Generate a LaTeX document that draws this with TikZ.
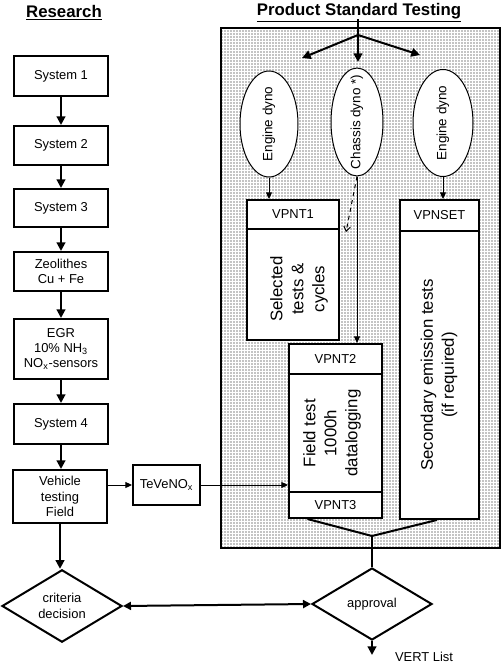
\documentclass[tikz,border=0pt]{standalone}
\usepackage{fontspec}
\setmainfont{Liberation Sans}
\usetikzlibrary{arrows.meta,shapes.geometric,patterns.meta}
\newcommand\pw[1]{#1*0.75pt}
\begin{document}
\begin{tikzpicture}[x=0.75pt,y=-0.75pt,
 sm/.style={font=\fontsize{9.7}{11.6}\selectfont},
 el/.style={font=\fontsize{10.1}{12}\selectfont},
 big/.style={font=\fontsize{12.6}{15.8}\selectfont},
 ttl/.style={font=\fontsize{12.6}{15}\selectfont\bfseries},
 box/.style={draw, line width=1.5pt, fill=white, inner sep=0pt, align=center, sm},
 ell/.style={draw, ellipse, line width=0.75pt, fill=white, inner sep=0pt},
 dia/.style={draw, diamond, line width=1.5pt, fill=white, inner sep=0pt, align=center, sm},
 thk/.style={line width=1.5pt, -{Triangle[length=6.5pt,width=6.5pt]}},
 thn/.style={line width=0.75pt, -{Triangle[length=5pt,width=4.5pt]}},
 rot/.style={rotate=90, align=center, inner sep=0pt},
]
\useasboundingbox (0,0) rectangle (503,667);
% panel
\draw[line width=1.5pt, fill=white, pattern={Dots[distance=2.25pt,radius=0.4pt]}] (221,28) rectangle (500,548);
\draw[line width=1.5pt] (221,28) rectangle (500,548);

% titles
\node[ttl] (res) at (64,13) {\underline{Research}};
\node[ttl] (pst) at (359,13) {\underline{Product Standard Testing}};

% research column
\node[box, minimum width=\pw{94}, minimum height=\pw{40}] (s1) at (61,76) {System 1};
\node[box, minimum width=\pw{94}, minimum height=\pw{39}] (s2) at (61,145.5) {System 2};
\node[box, minimum width=\pw{94}, minimum height=\pw{38}] (s3) at (61,208) {System 3};
\node[box, minimum width=\pw{94}, minimum height=\pw{39}] (zeo) at (61,271.5) {Zeolithes\\Cu + Fe};
\node[box, minimum width=\pw{94}, minimum height=\pw{60}] (egr) at (61,349) {EGR\\10\% NH\textsubscript{3}\\NO\textsubscript{x}-sensors};
\node[box, minimum width=\pw{94}, minimum height=\pw{40}] (s4) at (61,424) {System 4};
\node[box, minimum width=\pw{94}, minimum height=\pw{53}] (veh) at (60,496.5) {Vehicle\\testing\\Field};
\node[box, minimum width=\pw{67}, minimum height=\pw{40}] (tev) at (166.5,485) {TeVeNO\textsubscript{x}};
\node[dia, minimum width=\pw{120}, minimum height=\pw{72}] (crit) at (62,606) {criteria\\decision};
\node[dia, minimum width=\pw{120}, minimum height=\pw{72}] (app) at (372,604) {approval};
\node[sm] (vert) at (424,657) {VERT List};

\draw[thk] (s1) -- (s2);
\draw[thk] (s2) -- (s3);
\draw[thk] (s3) -- (zeo);
\draw[thk] (zeo) -- (egr);
\draw[thk] (egr) -- (s4);
\draw[thk] (s4) -- (s4 |- veh.north);
\draw[thk] (veh) -- (veh |- crit.north);
\draw[line width=1.5pt, {Triangle[length=6pt,width=6pt]}-{Triangle[length=6pt,width=6pt]}] (crit.east) -- (app.west);
\coordinate (vl) at (372,655);
\draw[thk] (app.south) -- (vl);

% top arrows
\coordinate (tt) at (358,19);
\coordinate (tj) at (358,35);
\coordinate (ta) at (302,58);
\coordinate (tb) at (358,62);
\coordinate (tc) at (420,55);
\draw[line width=1.5pt] (tt) -- (tj);
\draw[thk] (tj) -- (ta);
\draw[thk] (tj) -- (tb);
\draw[thk] (tj) -- (tc);

% ellipses
\node[ell, minimum width=\pw{58}, minimum height=\pw{106}] (e1) at (269,124) {};
\node[ell, minimum width=\pw{52}, minimum height=\pw{108}] (e2) at (357,122) {};
\node[ell, minimum width=\pw{60}, minimum height=\pw{107}] (e3) at (443,123) {};
\node[el, rot] (e1t) at (e1) {Engine dyno};
\node[el, rot] (e2t) at (e2) {Chassis dyno *)};
\node[el, rot] (e3t) at (e3) {Engine dyno};

% VPNT boxes
\node[box, minimum width=\pw{92}, minimum height=\pw{29}] (v1h) at (293,214.5) {VPNT1};
\node[box, minimum width=\pw{92}, minimum height=\pw{111}] (v1b) at (293,284.5) {};
\node[big, rot] (v1t) at (299,289) {Selected\\tests \&\\cycles};

\node[box, minimum width=\pw{79}, minimum height=\pw{31}] (vsh) at (439.5,215.5) {VPNSET};
\node[box, minimum width=\pw{79}, minimum height=\pw{288}] (vsb) at (439.5,375) {};
\node[big, rot] (vst) at (439,375) {Secondary emission tests\\(if required)};

\node[box, minimum width=\pw{93}, minimum height=\pw{30}] (v2h) at (335.5,359) {VPNT2};
\node[box, minimum width=\pw{93}, minimum height=\pw{118}] (v2b) at (335.5,433) {};
\node[big, rot] (v2t) at (332,433) {Field test\\1000h\\datalogging};
\node[box, minimum width=\pw{93}, minimum height=\pw{26}] (v3) at (335.5,505) {VPNT3};

% ellipse connectors
\draw[thn] (e1.south) -- (e1.south |- v1h.north);
\draw[thn] (e3.south) -- (e3.south |- vsh.north);
\draw[thn] (e2.south) -- (e2.south |- v2h.north);
\coordinate (dsh) at (346,232);
\draw[line width=0.75pt, dashed, -{Straight Barb[length=3.5pt,width=5pt]}] (e2.south) -- (dsh);

% TeVeNOx connectors
\draw[thn] (veh.east |- tev.west) -- (tev.west);
\draw[thn] (tev.east) -- (tev.east -| v2b.west);

% bottom junction
\coordinate (bj) at (372,536);
\draw[line width=1.5pt] ([xshift=-21pt]v3.south) -- (bj) -- ([xshift=-2pt]vsb.south);
\draw[line width=1.5pt] (bj) -- (app.north);
\end{tikzpicture}
\end{document}
